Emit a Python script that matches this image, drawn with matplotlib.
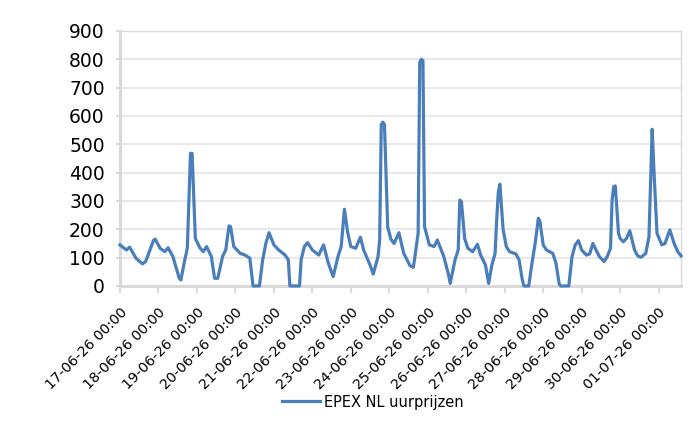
import datetime as dt
import numpy as np
from matplotlib import pyplot as plt

# EPEX NL hourly prices (hours since 17-06-26 00:00)
hours = [0, 4, 6, 10, 14, 16, 21, 22, 25, 28, 30, 33, 37, 38, 40, 42, 44, 45,
         47, 50, 52, 54, 57, 59, 61, 64, 66, 68, 69, 71, 75, 78, 81, 83, 87,
         89, 91, 93, 96, 99, 103, 105, 106, 112, 113, 115, 117, 120, 124, 127,
         130, 133, 136, 138, 140, 142, 144, 147, 150, 152, 156, 158, 161, 162,
         163, 164, 165, 167, 169, 171, 174, 177, 181, 183, 184, 186, 187, 188,
         189, 190, 193, 196, 198, 202, 205, 206, 209, 211, 212, 213, 215, 217,
         220, 223, 225, 228, 230, 232, 234, 235, 236, 237, 239, 241, 243, 247,
         249, 251, 252, 255, 257, 259, 261, 262, 264, 266, 270, 272, 274, 275,
         280, 282, 284, 286, 288, 291, 293, 295, 297, 299, 302, 304, 306, 307,
         308, 309, 311, 312, 314, 316, 318, 321, 323, 325, 328, 330, 331, 332,
         333, 335, 338, 340, 343, 346, 348, 350]
prices = [145, 127, 137, 98, 78, 86, 162, 165, 133, 121, 135, 104, 27, 21, 80,
          133, 468, 468, 168, 133, 121, 139, 104, 27, 27, 104, 127, 212, 209,
          139, 115, 109, 98, 0, 0, 92, 150, 188, 145, 127, 109, 92, 0, 0, 92,
          139, 153, 127, 109, 145, 80, 33, 104, 139, 271, 190, 139, 133, 172,
          127, 74, 42, 104, 162, 570, 578, 570, 209, 165, 150, 188, 115, 71, 66,
          104, 186, 790, 800, 795, 209, 145, 139, 162, 104, 39, 9, 92, 127, 303,
          298, 168, 133, 121, 147, 109, 74, 9, 74, 115, 233, 330, 359, 200, 139,
          121, 113, 92, 21, 0, 0, 80, 150, 239, 227, 145, 127, 115, 80, 7, 0, 0,
          104, 145, 160, 127, 109, 113, 150, 127, 104, 86, 104, 133, 304, 350,
          353, 186, 168, 156, 168, 195, 127, 106, 101, 115, 174, 362, 553, 420,
          186, 145, 150, 198, 145, 121, 106]

start = dt.datetime(2026, 6, 17)
n_days = 15
day_labels = [(start + dt.timedelta(days=d)).strftime('%d-%m-%y %H:%M')
              for d in range(n_days)]

grey = '#d9d9d9'
blue = '#4a7ebb'

fig = plt.figure(figsize=(7, 4.3), dpi=100)
ax = fig.add_axes([0.1714, 0.335, 0.8015, 0.593])

ax.plot(hours, prices, color=blue, lw=2.3, solid_joinstyle='round',
        clip_on=False, zorder=3, label='EPEX NL uurprijzen')

ax.set_xlim(0, 350)
ax.set_ylim(0, 900)
ax.set_yticks(np.arange(0, 901, 100))
ax.set_xticks(np.arange(n_days) * 24)
ax.set_xticklabels(day_labels, rotation=45, ha='right', rotation_mode='anchor',
                   fontsize=10.2)
ax.tick_params(axis='y', labelsize=13.5, length=3, width=1.5, color=grey,
               pad=8)
ax.tick_params(axis='x', length=5, width=1.5, color=grey, pad=9)

ax.grid(axis='y', color='#e3e3e3', lw=1.1, zorder=0)
ax.set_axisbelow(True)
for side in ['left', 'bottom']:
    ax.spines[side].set_color(grey)
    ax.spines[side].set_linewidth(2.2)
for side in ['top', 'right']:
    ax.spines[side].set_color(grey)
    ax.spines[side].set_linewidth(1)

fig.legend(loc='center', bbox_to_anchor=(0.533, 0.065), frameon=False,
           fontsize=10.5, handlelength=2.6, handletextpad=0.3)

fig.savefig('out.png', dpi=100)
